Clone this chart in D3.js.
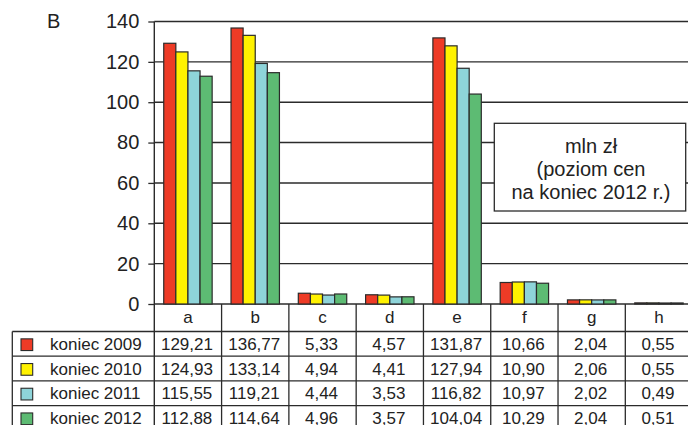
<!DOCTYPE html>
<html>
<head>
<meta charset="utf-8">
<script src="https://cdn.jsdelivr.net/npm/d3@7"></script>
<style>
  html, body { margin: 0; padding: 0; background: #fff; }
  svg { display: block; font-family: "Liberation Sans", Arial, sans-serif; }
</style>
</head>
<body>
<svg id="chart" width="688" height="425"></svg>
<script>
// Categories and yearly series (mln zł, prices at end of 2012)
const categories = ["a", "b", "c", "d", "e", "f", "g", "h"];
const seriesNames = ["koniec 2009", "koniec 2010", "koniec 2011", "koniec 2012"];
const values2009 = [129.21, 136.77, 5.33, 4.57, 131.87, 10.66, 2.04, 0.55];
const values2010 = [124.93, 133.14, 4.94, 4.41, 127.94, 10.90, 2.06, 0.55];
const values2011 = [115.55, 119.21, 4.44, 3.53, 116.82, 10.97, 2.02, 0.49];
const values2012 = [112.88, 114.64, 4.96, 3.57, 104.04, 10.29, 2.04, 0.51];
const seriesColors = ["#ee3b26", "#fff200", "#8ed4d9", "#5dbb73"];
const yTicks = [0, 20, 40, 60, 80, 100, 120, 140];
const panelLabel = "B";
const unitLines = ["mln zł", "(poziom cen", "na koniec 2012 r.)"];

const seriesValues = [values2009, values2010, values2011, values2012];
const series = seriesNames.map((name, i) => ({ name, color: seriesColors[i], values: seriesValues[i] }));

const svg = d3.select("#chart");
const ink = "#2b2b2b";

const axisX = 154.3, plotRight = 692.6, plotTop = 21.5, plotBottom = 304;
const tableBottom = 430.3;

const x = d3.scaleBand().domain(categories).range([axisX, plotRight]).paddingInner(0).paddingOuter(0);
const xs = d3.scaleBand().domain(seriesNames).range([0, x.bandwidth()]).paddingInner(0).paddingOuter(0.78);
const y = d3.scaleLinear().domain([0, 140]).range([plotBottom, plotTop]);

// Horizontal gridlines
svg.append("g")
  .selectAll("line")
  .data(yTicks)
  .join("line")
  .attr("x1", axisX).attr("x2", 688)
  .attr("y1", d => y(d)).attr("y2", d => y(d))
  .attr("stroke", ink).attr("stroke-width", 1.4);

// Unit box
const box = svg.append("g");
box.append("rect")
  .attr("x", 494.3).attr("y", 123.3).attr("width", 191.4).attr("height", 87.7)
  .attr("fill", "#fff").attr("stroke", ink).attr("stroke-width", 1.3);
box.selectAll("text")
  .data(unitLines)
  .join("text")
  .attr("x", 591).attr("y", (d, i) => 152.5 + i * 23)
  .attr("text-anchor", "middle")
  .attr("font-size", 20)
  .attr("fill", "#222")
  .text(d => d);

// Bars
const groups = svg.append("g")
  .selectAll("g")
  .data(series)
  .join("g")
  .attr("fill", d => d.color);
groups.selectAll("rect")
  .data(s => s.values.map((v, i) => ({ cat: categories[i], v, name: s.name })))
  .join("rect")
  .attr("x", d => x(d.cat) + xs(d.name))
  .attr("y", d => y(d.v))
  .attr("width", xs.bandwidth())
  .attr("height", d => y(0) - y(d.v))
  .attr("stroke", ink)
  .attr("stroke-width", 1.2);

// Y axis
const yAxis = d3.axisLeft(y).tickValues(yTicks).tickSize(6).tickPadding(9).tickFormat(d3.format("d"));
const yG = svg.append("g").attr("transform", `translate(${axisX},0)`).call(yAxis);
yG.select(".domain").remove();
yG.selectAll(".tick line").attr("stroke", ink).attr("stroke-width", 1.3);
yG.selectAll(".tick text").attr("font-size", 20).attr("fill", "#222")
  .attr("font-family", "Liberation Sans, Arial, sans-serif");
svg.append("line")
  .attr("x1", axisX).attr("x2", axisX).attr("y1", plotTop).attr("y2", tableBottom)
  .attr("stroke", ink).attr("stroke-width", 1.4);

// Panel label
svg.append("text").attr("x", 47).attr("y", 27.5).attr("font-size", 20).attr("fill", "#222").text(panelLabel);

// Data table
const rows = d3.scaleBand().domain(seriesNames).range([331.5, tableBottom]);
const polish = d3.formatLocale({ decimal: ",", thousands: " ", grouping: [3], currency: ["", " zł"] });
const fmt = polish.format(".2f");

const table = svg.append("g");
// category column separators
table.selectAll("line.col")
  .data(categories.slice(1).concat(["__end"]))
  .join("line")
  .attr("class", "col")
  .attr("x1", (d, i) => x(categories[i]) + x.bandwidth())
  .attr("x2", (d, i) => x(categories[i]) + x.bandwidth())
  .attr("y1", plotBottom).attr("y2", tableBottom)
  .attr("stroke", ink).attr("stroke-width", 1.3);
// row separators
table.selectAll("line.row")
  .data(seriesNames)
  .join("line")
  .attr("class", "row")
  .attr("x1", 12.3).attr("x2", 688)
  .attr("y1", d => rows(d)).attr("y2", d => rows(d))
  .attr("stroke", ink).attr("stroke-width", 1.3);
table.append("line")
  .attr("x1", 12.3).attr("x2", 12.3).attr("y1", rows(seriesNames[0])).attr("y2", tableBottom)
  .attr("stroke", ink).attr("stroke-width", 1.3);

// category labels
table.selectAll("text.cat")
  .data(categories)
  .join("text")
  .attr("class", "cat")
  .attr("x", d => x(d) + x.bandwidth() / 2)
  .attr("y", 323)
  .attr("text-anchor", "middle")
  .attr("font-size", 17)
  .attr("fill", "#222")
  .text(d => d);

const rowG = table.selectAll("g.r")
  .data(series)
  .join("g")
  .attr("class", "r")
  .attr("transform", d => `translate(0,${rows(d.name)})`);
rowG.append("rect")
  .attr("x", 21).attr("width", 11.7).attr("height", 11.7)
  .attr("y", rows.bandwidth() / 2 - 5)
  .attr("fill", d => d.color).attr("stroke", ink).attr("stroke-width", 1.1);
rowG.append("text")
  .attr("x", 50).attr("y", rows.bandwidth() - 6.3)
  .attr("font-size", 17).attr("fill", "#222")
  .text(d => d.name);
rowG.selectAll("text.v")
  .data(d => d.values.map((v, i) => ({ v, cat: categories[i] })))
  .join("text")
  .attr("class", "v")
  .attr("x", d => x(d.cat) + x.bandwidth() / 2 - 1)
  .attr("y", rows.bandwidth() - 6.3)
  .attr("text-anchor", "middle")
  .attr("font-size", 17).attr("fill", "#222")
  .text(d => fmt(d.v));
</script>
</body>
</html>
